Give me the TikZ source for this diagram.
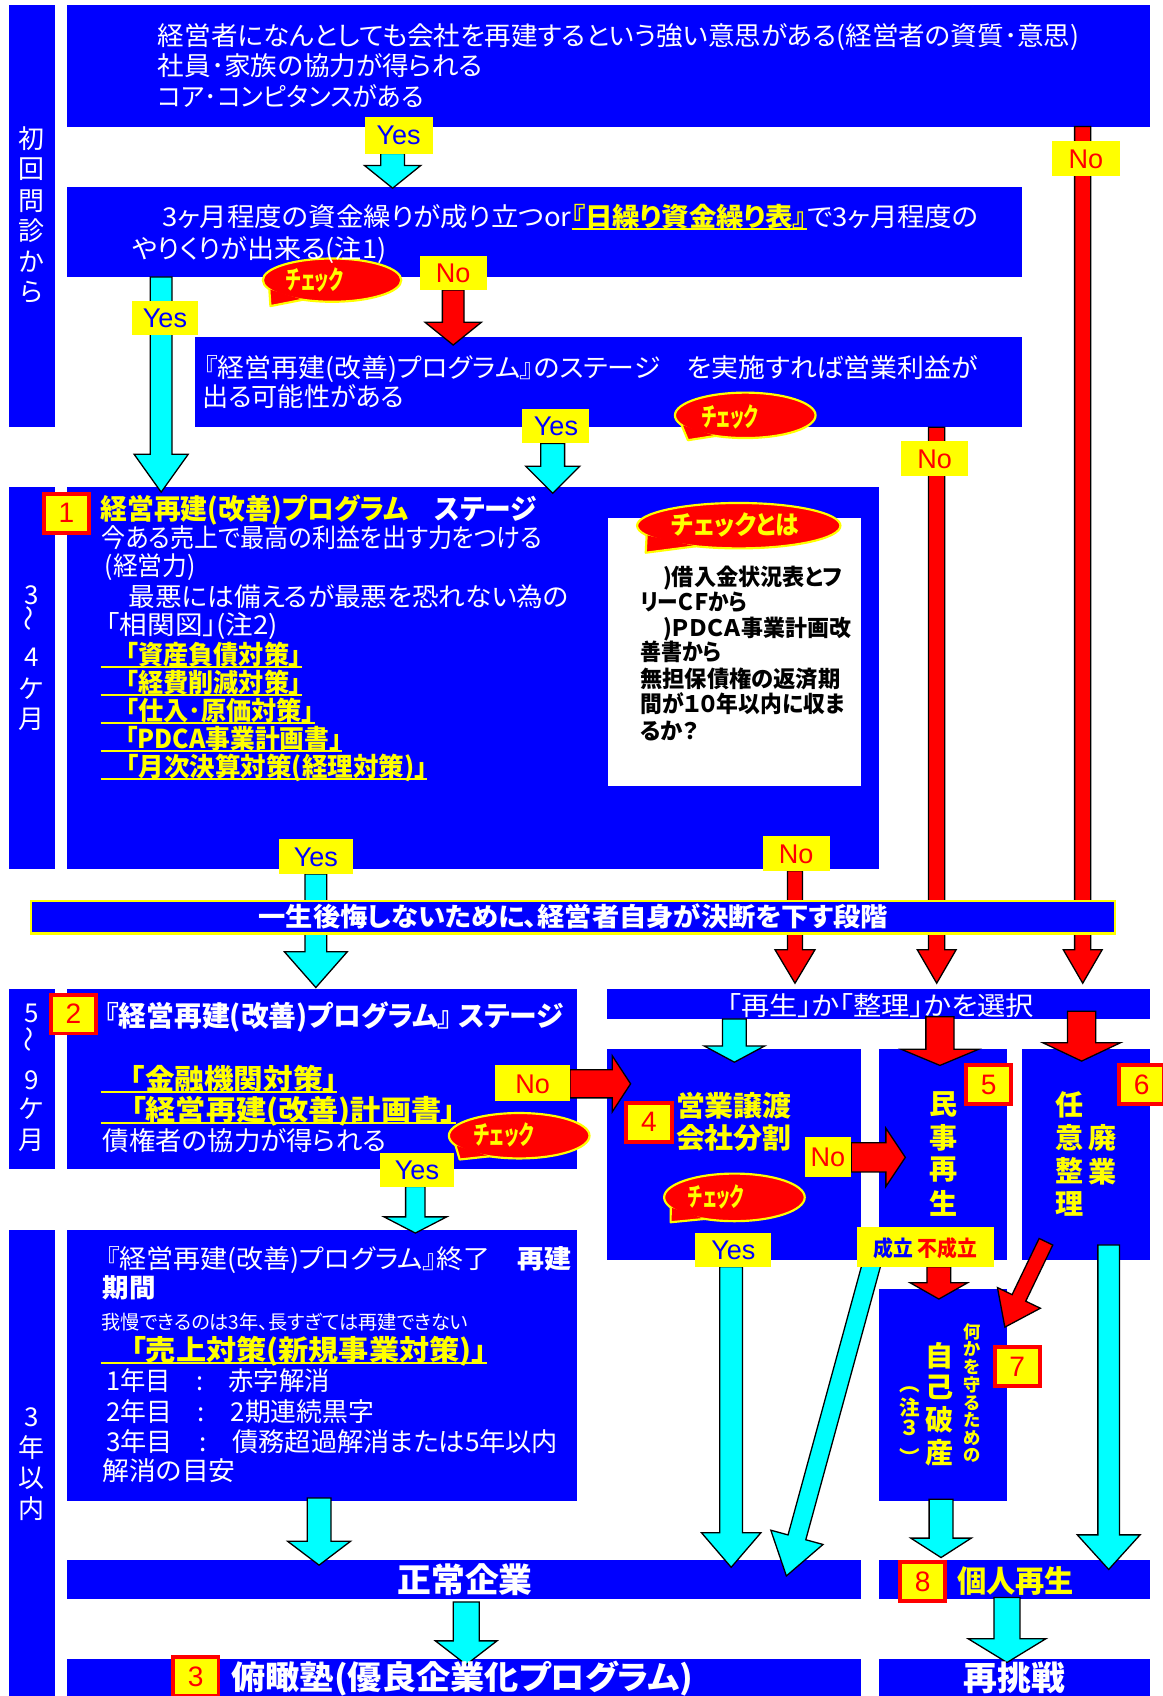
\documentclass[tikz,border=0pt]{standalone}
\usepackage{fontspec}
\usepackage{graphicx}
\setmainfont{Noto Sans CJK JP}[RawFeature=+palt]
\newfontfamily\jpf{Noto Sans CJK JP}[RawFeature=+palt]
\newfontfamily\lat{Liberation Sans}
\usetikzlibrary{calc}
\definecolor{cBlue}{RGB}{0,0,255}
\definecolor{cCyan}{RGB}{0,255,255}
\definecolor{cRed}{RGB}{255,0,0}
\definecolor{cYellow}{RGB}{255,255,0}
\newcommand\fz[1]{\fontsize{#1}{#1}\selectfont}
\newsavebox\fitbox
\newlength\fitlen
\newcommand\fitw[2]{\sbox\fitbox{#2}\setlength\fitlen{\wd\fitbox}\pgfmathsetmacro\fitsc{0.5*#1/\fitlen}\scalebox{\fitsc}[1]{\usebox\fitbox}}
\newcommand\myul[1]{\setbox0\hbox{#1}\rlap{\rule[-1.6pt]{\wd0}{0.9pt}}\box0}
\newcommand\yul[1]{\textcolor{cYellow}{\bfseries\myul{#1}}}
\newcommand\bxn[6]{\node[#1, minimum width={(#4-#2)*0.5pt}, minimum height={(#5-#3)*0.5pt}] (#6) at ({(#2+#4)/2},{(#3+#5)/2}) {};}
\newcommand\lbln[7]{\node[#1, minimum width={(#4-#2)*0.5pt}, minimum height={(#5-#3)*0.5pt}] (#6) at ({(#2+#4)/2},{(#3+#5)/2}) {#7};}
\newcommand\tline[6]{\node[tx,#1] (#2) at (#3,#4) {\fitw{#5}{#6}};}
\newcommand\vchs[4]{\foreach \yy/\cc [count=\i] in {#4} {\node[vt,#2] (#1\i) at (#3,\yy) {\cc};}}
\newcommand\barw[8]{%
  \pgfmathsetmacro\bdx{#4-#2}\pgfmathsetmacro\bdy{#5-#3}%
  \pgfmathsetmacro\blen{veclen(\bdx,\bdy)}%
  \pgfmathsetmacro\bang{-atan2(\bdy,\bdx)}%
  \begin{scope}[shift={(#2,#3)}, rotate=\bang]
    \draw[arr, fill=#1] (0,-#6) -- ({\blen-#8},-#6) -- ({\blen-#8},-#7) -- (\blen,0) -- ({\blen-#8},#7) -- ({\blen-#8},#6) -- (0,#6) -- cycle;
  \end{scope}}
\newcommand\bubl[7]{%
  \coordinate (#1) at (#2,#3);
  \pgfmathsetmacro\brx{#4*0.5}\pgfmathsetmacro\bry{#5*0.5}%
  \draw[fill=cRed, draw=cYellow, line width=1pt] (#1) ellipse [x radius=\brx pt, y radius=\bry pt];
  \coordinate (#1p) at ($(#1)+(245:\brx pt and \bry pt)$);
  \coordinate (#1q) at ($(#1)+(205:\brx pt and \bry pt)$);
  \coordinate (#1t) at (#6,#7);
  \fill[cRed] (#1p) -- (#1t) -- (#1q) -- cycle;
  \draw[cYellow, line width=1pt, line join=round] (#1p) -- (#1t) -- (#1q);}
\begin{document}
\begin{tikzpicture}[x=0.5pt,y=-0.5pt,
  box/.style={fill=cBlue, draw=none, inner sep=0pt, outer sep=0pt},
  wbox/.style={fill=white, draw=none, inner sep=0pt, outer sep=0pt},
  band/.style={fill=cBlue, draw=cYellow, line width=1pt, inner sep=0pt, outer sep=0pt},
  arr/.style={draw=black, line width=0.6pt, line join=miter},
  tx/.style={inner sep=0pt, outer sep=0pt, anchor=base west, text=white, font=\fz{12}},
  yl/.style={text=cYellow, font=\bfseries\fz{12}},
  wt/.style={text=black, font=\bfseries\fz{10.5}},
  vt/.style={inner sep=0pt, outer sep=0pt, anchor=center, text=white, font=\fz{12}},
  lbl/.style={fill=cYellow, inner sep=0pt, outer sep=0pt, text height=9pt, text depth=0pt, font=\lat\fz{12.5}},
  yes/.style={lbl, text=cBlue},
  no/.style={lbl, text=cRed},
  badge/.style={draw=cRed, line width=1.8pt, fill=cYellow, minimum width=21pt, minimum height=18pt, inner sep=0pt, text=cRed, font=\lat\fz{13}},
  bt/.style={anchor=base, inner sep=0pt, text=cYellow, font=\bfseries\fz{12}}]
\useasboundingbox (0,0) rectangle (1075,1568);
% ---------- boxes
\bxn{box}{8}{5}{51}{395}{L1}
\bxn{box}{8}{450}{51}{803}{L2}
\bxn{box}{8}{914}{51}{1081}{L3}
\bxn{box}{8}{1137}{51}{1572}{L4}
\bxn{box}{62}{5}{1063}{117}{Q1}
\bxn{box}{62}{173}{945}{256}{Q2}
\bxn{box}{180}{312}{945}{395}{Q3}
\bxn{box}{62}{450}{813}{803}{S1}
\bxn{wbox}{562}{479}{796}{727}{WB}
\bxn{box}{561}{914}{1063}{942}{SEL}
\bxn{box}{62}{914}{533}{1081}{S2}
\bxn{box}{561}{970}{796}{1165}{B4}
\bxn{box}{813}{970}{931}{1165}{B5}
\bxn{box}{945}{970}{1063}{1165}{B6}
\bxn{box}{62}{1137}{533}{1388}{EN}
\bxn{box}{813}{1192}{931}{1388}{B7}
\bxn{box}{62}{1442}{796}{1478}{NC}
\bxn{box}{813}{1442}{1063}{1478}{PR}
\bxn{box}{62}{1534}{796}{1572}{FK}
\bxn{box}{813}{1534}{1063}{1572}{RC}
% ---------- arrows
\barw{cCyan}{363}{142}{363}{174}{11}{26}{21}
\barw{cRed}{419}{268}{419}{319}{10}{26}{21}
\barw{cCyan}{149}{256}{149}{455}{10}{25}{35}
\barw{cCyan}{511}{410}{511}{456}{11}{25}{25}
\barw{cRed}{1001}{117}{1001}{909}{7.5}{18}{31}
\barw{cRed}{866}{395}{866}{909}{7.5}{18}{31}
\barw{cRed}{735}{805}{735}{909}{7}{18.5}{31}
\barw{cCyan}{292}{808}{292}{913}{10}{29}{33}
\barw{cCyan}{679}{942}{679}{982}{11}{28}{15}
\barw{cRed}{869}{940}{869}{985}{13}{36}{15}
\barw{cRed}{1000}{935}{1000}{981}{13}{36}{17}
\barw{cRed}{527}{1002}{583}{1002}{13}{26}{17}
\barw{cRed}{787}{1070}{837}{1070}{13.5}{27}{18}
\barw{cCyan}{384}{1097}{384}{1140}{9}{29}{15}
\barw{cRed}{868}{1171}{868}{1201}{11}{26.5}{15}
\barw{cRed}{967}{1148}{929}{1227}{7}{22}{30}
\barw{cCyan}{676}{1171}{676}{1449}{10.5}{27.5}{32}
\barw{cCyan}{806}{1168}{727}{1457}{8.5}{25}{37}
\barw{cCyan}{1025}{1151}{1025}{1451}{10}{29}{32}
\barw{cCyan}{870}{1386}{870}{1440}{11}{28}{18}
\barw{cCyan}{295}{1385}{295}{1447}{11}{29}{22}
\barw{cCyan}{431}{1481}{431}{1539}{12}{28.5}{22}
\barw{cCyan}{931}{1477}{931}{1537}{12}{36}{22}
% ---------- band
\bxn{band}{29}{833}{1031}{863}{BAND}
\node[tx, anchor=base, font=\bfseries\fz{12}] (BT) at (530,857) {\fitw{582}{一生後悔しないために、経営者自身が決断を下す段階}};
\node[tx, anchor=base] (SELT) at (814,939) {\fitw{284}{「再生」か「整理」かを選択}};
% ---------- labels
\lbln{yes}{337}{108}{400}{142}{Y1}{Yes}
\lbln{no}{973}{130}{1035}{163}{N1}{No}
\lbln{no}{388}{237}{450}{268}{N2}{No}
\lbln{yes}{122}{278}{183}{310}{Y2}{Yes}
\lbln{yes}{483}{378}{545}{410}{Y3}{Yes}
\lbln{no}{833}{408}{895}{440}{N3}{No}
\lbln{yes}{258}{776}{326}{808}{Y4}{Yes}
\lbln{no}{705}{773}{767}{805}{N4}{No}
\lbln{no}{458}{985}{527}{1018}{N5}{No}
\lbln{yes}{351}{1066}{420}{1097}{Y5}{Yes}
\lbln{no}{744}{1051}{787}{1088}{N6}{No}
\lbln{yes}{643}{1140}{713}{1171}{Y6}{Yes}
\lbln{lbl}{792}{1134}{919}{1171}{SF}{\jpf\bfseries\fz{10}\fitw{96}{\textcolor{cBlue}{成立} \textcolor{cRed}{不成立}}}
% ---------- badges
\node[badge] (K1) at (61.5,474.5) {1};
\node[badge] (K2) at (68,937.5) {2};
\node[badge] (K4) at (600,1037.5) {4};
\node[badge] (K5) at (914,1003) {5};
\node[badge] (K6) at (1055.5,1003) {6};
\node[badge] (K7) at (940.5,1263.5) {7};
\node[badge] (K8) at (853,1462) {8};
\node[badge] (K3) at (181,1550) {3};
% ---------- bubbles
\bubl{C1}{307}{259}{64}{20}{250}{283}
\node[bt] (C1x) at (291,268) {\fitw{53}{チェック}};
\bubl{C2}{689}{384}{65}{21}{636}{407}
\node[bt] (C2x) at (675,394) {\fitw{52}{チェック}};
\bubl{C3}{683}{486}{94}{21}{597}{511}
\node[bt] (C3x) at (680,494) {\fitw{118}{チェックとは}};
\bubl{C4}{480}{1050}{65}{21}{425}{1072}
\node[bt] (C4x) at (466,1058) {\fitw{55}{チェック}};
\bubl{C5}{679}{1107}{65}{22}{620}{1130}
\node[bt] (C5x) at (662,1115) {\fitw{51}{チェック}};
% ---------- texts
\tline{}{T1a}{146}{42}{852}{経営者になんとしても会社を再建するという強い意思がある(経営者の資質･意思)}
\tline{}{T1b}{146}{70}{300}{社員･家族の協力が得られる}
\tline{}{T1c}{146}{98}{246}{コア･コンピタンスがある}
\tline{}{T2a}{150}{209}{755}{3ヶ月程度の資金繰りが成り立つor\yul{『日繰り資金繰り表』}で3ヶ月程度の}
\tline{}{T2b}{122}{239}{235}{やりくりが出来る(注1)}
\tline{}{T3a}{189}{349}{715}{『経営再建(改善)プログラム』のステージ　を実施すれば営業利益が}
\tline{}{T3b}{187}{376}{187}{出る可能性がある}
\tline{font=\bfseries\fz{13}}{S1t}{93}{480}{403}{\textcolor{cYellow}{経営再建(改善)プログラム}　ステージ}
\tline{}{S1a}{94}{506}{407}{今ある売上で最高の利益を出す力をつける}
\tline{}{S1b}{97}{532}{84}{(経営力)}
\tline{}{S1c}{119}{561}{407}{最悪には備えるが最悪を恐れない為の}
\tline{}{S1d}{98}{587}{159}{「相関図」(注2)}
\tline{yl}{S1e}{93}{614}{186}{\myul{　「資産負債対策」}}
\tline{yl}{S1f}{93}{640}{186}{\myul{　「経費削減対策」}}
\tline{yl}{S1g}{93}{666}{198}{\myul{　「仕入･原価対策」}}
\tline{yl}{S1h}{93}{692}{223}{\myul{　「PDCA事業計画書」}}
\tline{yl}{S1i}{93}{718}{302}{\myul{　「月次決算対策(経理対策)」}}
\tline{wt}{W1}{613}{541}{166}{)借入金状況表とフ}
\tline{wt}{W2}{592}{564}{99}{リーＣＦから}
\tline{wt}{W3}{613}{588}{174}{)ＰＤＣＡ事業計画改}
\tline{wt}{W4}{592}{611}{75}{善書から}
\tline{wt}{W5}{592}{636}{185}{無担保債権の返済期}
\tline{wt}{W6}{592}{659}{189}{間が１０年以内に収ま}
\tline{wt}{W7}{592}{684}{54}{るか？}
\tline{font=\bfseries\fz{13}}{S2t}{97}{949}{424}{『経営再建(改善)プログラム』 ステージ}
\tline{yl,font=\bfseries\fz{13}}{S2a}{93}{1007}{219}{\myul{　「金融機関対策」}}
\tline{yl,font=\bfseries\fz{13}}{S2b}{93}{1036}{329}{\myul{　「経営再建(改善)計画書」}}
\tline{}{S2c}{95}{1064}{262}{債権者の協力が得られる}
\tline{text=cYellow,font=\bfseries\fz{13}}{B4a}{625}{1032}{107}{営業譲渡}
\tline{text=cYellow,font=\bfseries\fz{13}}{B4b}{625}{1062}{107}{会社分割}
\tline{}{E1}{98}{1173}{430}{『経営再建(改善)プログラム』終了　{\bfseries 再建}}
\tline{font=\bfseries\fz{12}}{E2}{95}{1200}{49}{期間}
\tline{font=\fz{9}}{E3}{94}{1229}{339}{我慢できるのは3年、長すぎては再建できない}
\tline{yl,font=\bfseries\fz{13}}{E4}{93}{1258}{357}{\myul{　「売上対策(新規事業対策)」}}
\tline{}{E5}{98}{1286}{207}{1年目　:　赤字解消}
\tline{}{E6}{98}{1314}{248}{2年目　:　2期連続黒字}
\tline{}{E7}{98}{1342}{418}{3年目　:　債務超過解消または5年以内}
\tline{}{E8}{95}{1369}{123}{解消の目安}
\node[tx, anchor=base, font=\bfseries\fz{15.5}] (Z1) at (430,1472) {\fitw{125}{正常企業}};
\tline{text=cYellow,font=\bfseries\fz{14}}{Z2}{885}{1472}{108}{個人再生}
\tline{font=\bfseries\fz{15}}{Z3}{214}{1562}{427}{俯瞰塾(優良企業化プログラム)}
\node[tx, anchor=base, font=\bfseries\fz{15.5}] (Z4) at (938,1563) {\fitw{94}{再挑戦}};
% ---------- vertical texts
\vchs{V5}{font=\bfseries\fz{13}, text=cYellow}{872}{1021/民,1052/事,1081/再,1113/生}
\vchs{V6}{font=\bfseries\fz{13}, text=cYellow}{989}{1021/任,1052/意,1082/整,1113/理}
\vchs{V6b}{font=\bfseries\fz{13}, text=cYellow}{1019}{1052/廃,1083/業}
\vchs{V7}{font=\bfseries\fz{13}, text=cYellow}{869}{1253/自,1283/己,1313/破,1343/産}
\vchs{V7n}{font=\bfseries\fz{9.5}, text=cYellow}{841}{1285/︵,1301/注,1320/３,1347/︶}
\vchs{V7s}{font=\bfseries\fz{8}, text=cYellow}{899}{1231/何,1247/か,1264/を,1280/守,1297/る,1313/た,1330/め,1346/の}
\vchs{LA}{}{29}{128/初,156/回,186/問,213/診,242/か,270/ら}
\vchs{LB}{}{29}{550/3,572/{\rotatebox[origin=c]{90}{〜}},608/4,637/ケ,665/月}
\vchs{LC}{}{29}{937/5,961/{\rotatebox[origin=c]{90}{〜}},999/9,1025/ケ,1054/月}
\vchs{LD}{}{29}{1310/3,1338/年,1367/以,1395/内}
\end{tikzpicture}
\end{document}
